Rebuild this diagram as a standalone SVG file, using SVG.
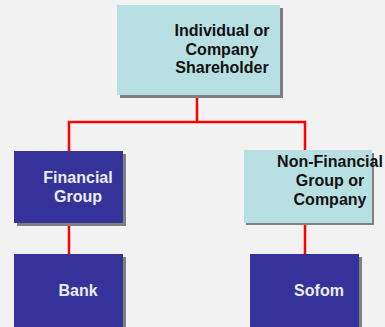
<svg xmlns="http://www.w3.org/2000/svg" width="385" height="327" viewBox="0 0 385 327">
<style>
.bg{fill:#f2f2f2}
.sh{fill:#808080}
.lt{fill:#b8dfe2}
.dk{fill:#35339a}
.t{font-family:"Liberation Sans",Arial,sans-serif;font-weight:bold;font-size:16px;text-anchor:middle}
.tb{fill:#111111}
.tw{fill:#ececf4}
.c{stroke:#ff0000;stroke-width:2.5;fill:none}
</style>
<rect class="bg" x="0" y="0" width="385" height="327"/>
<g id="connectors">
<polyline class="c" points="197,95 197,122"/>
<polyline class="c" points="69,151 69,122 305,122 305,150"/>
<line class="c" x1="69" y1="223" x2="69" y2="254"/>
<line class="c" x1="305" y1="223" x2="305" y2="254"/>
</g>
<g id="shareholder">
<rect class="sh" x="120" y="8" width="163" height="90"/>
<rect class="lt" x="117" y="5" width="163" height="90"/>
<text class="t tb" x="222" y="36">Individual or</text>
<text class="t tb" x="222" y="54.5">Company</text>
<text class="t tb" x="222" y="73">Shareholder</text>
</g>
<g id="financial">
<rect class="sh" x="17" y="154" width="109" height="72"/>
<rect class="dk" x="14" y="151" width="109" height="72"/>
<text class="t tw" x="78" y="183">Financial</text>
<text class="t tw" x="78" y="202">Group</text>
</g>
<g id="nonfinancial">
<rect class="sh" x="246" y="153" width="128" height="72"/>
<rect class="lt" x="244" y="150" width="128" height="73"/>
<text class="t tb" x="330" y="167">Non-Financial</text>
<text class="t tb" x="330" y="186">Group or</text>
<text class="t tb" x="330" y="205">Company</text>
</g>
<g id="bank">
<rect class="sh" x="17" y="257" width="109" height="75"/>
<rect class="dk" x="14" y="254" width="109" height="75"/>
<text class="t tw" x="78" y="296">Bank</text>
</g>
<g id="sofom">
<rect class="sh" x="253" y="257" width="109" height="75"/>
<rect class="dk" x="250" y="254" width="109" height="75"/>
<text class="t tw" x="319" y="296">Sofom</text>
</g>
</svg>
